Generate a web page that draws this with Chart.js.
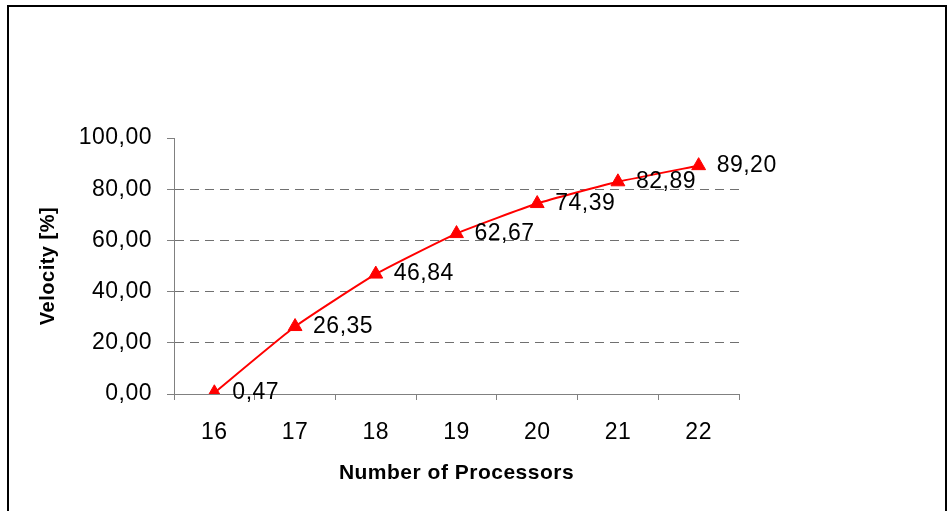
<!DOCTYPE html>
<html>
<head>
<meta charset="utf-8">
<script src="https://cdn.jsdelivr.net/npm/chart.js@4/dist/chart.umd.min.js"></script>
<style>
  body { margin: 0; background: #fff; }
  canvas { display: block; }
</style>
</head>
<body>
<canvas id="velocityChart" width="951" height="511"></canvas>
<script>
// chart data
var processors = ['16', '17', '18', '19', '20', '21', '22'];
var velocity = [0.47, 26.35, 46.84, 62.67, 74.39, 82.89, 89.20];
var yTicks = [0, 20, 40, 60, 80, 100];

function commaFormat(v) {
    return v.toFixed(2).replace('.', ',');
}

// frame round the whole picture + letter spacing like the original
var framePlugin = {
    id: 'frame',
    beforeDraw: function(chart) {
        chart.ctx.letterSpacing = '0.5px';
    },
    afterDraw: function(chart) {
        var ctx = chart.ctx;
        ctx.save();
        ctx.strokeStyle = '#000';
        ctx.lineWidth = 2;
        ctx.strokeRect(8, 6, 938, 530);
        ctx.restore();
    }
};

// value labels to the right of each point
var valueLabels = {
    id: 'valueLabels',
    afterDatasetsDraw: function(chart) {
        var ctx = chart.ctx;
        var meta = chart.getDatasetMeta(0);
        ctx.save();
        ctx.font = '23px "Liberation Sans", Arial, sans-serif';
        ctx.fillStyle = '#000';
        ctx.textAlign = 'left';
        ctx.textBaseline = 'middle';
        meta.data.forEach(function(pt, i) {
            ctx.fillText(commaFormat(velocity[i]), pt.x + 18, pt.y);
        });
        ctx.restore();
    }
};

var ctx = document.getElementById('velocityChart').getContext('2d');
var velocityChart = new Chart(ctx, {
    type: 'line',
    data: {
        labels: processors,
        datasets: [{
            data: velocity,
            borderColor: '#ff0000',
            backgroundColor: '#ff0000',
            borderWidth: 2,
            tension: 0.15,
            fill: false,
            pointStyle: 'triangle',
            pointRadius: 8,
            pointBorderWidth: 1,
            pointBackgroundColor: '#ff0000',
            pointBorderColor: '#ff0000'
        }]
    },
    options: {
        responsive: false,
        animation: false,
        layout: {
            padding: { left: 0, right: 212, top: 138, bottom: 0 }
        },
        plugins: {
            legend: { display: false },
            tooltip: { enabled: false }
        },
        scales: {
            x: {
                offset: true,
                grid: {
                    offset: true,
                    drawOnChartArea: false,
                    drawTicks: true,
                    tickLength: 6,
                    tickColor: '#808080'
                },
                border: { color: '#808080', width: 1 },
                ticks: {
                    color: '#000',
                    padding: 19,
                    font: { family: '"Liberation Sans", Arial, sans-serif', size: 23 }
                },
                title: {
                    display: true,
                    text: 'Number of Processors',
                    color: '#000',
                    padding: { top: 4, bottom: 25 },
                    font: { family: '"Liberation Sans", Arial, sans-serif', size: 21, weight: 'bold' }
                },
                afterFit: function(scale) {
                    scale.height = 117;
                }
            },
            y: {
                min: 0,
                max: 100,
                afterBuildTicks: function(scale) {
                    scale.ticks = yTicks.map(function(v) { return { value: v }; });
                },
                grid: {
                    color: function(c) {
                        var v = c.tick ? c.tick.value : null;
                        return (v === 0 || v === 100) ? 'rgba(0,0,0,0)' : '#707070';
                    },
                    lineWidth: 1,
                    tickLength: 7,
                    tickColor: '#808080'
                },
                border: { color: '#808080', width: 1, dash: [9, 6] },
                ticks: {
                    color: '#000',
                    padding: 15,
                    callback: function(value) { return commaFormat(value); },
                    font: { family: '"Liberation Sans", Arial, sans-serif', size: 23 }
                },
                title: {
                    display: true,
                    text: 'Velocity [%]',
                    color: '#000',
                    padding: { top: 36, bottom: 4 },
                    font: { family: '"Liberation Sans", Arial, sans-serif', size: 20, weight: 'bold' }
                },
                afterFit: function(scale) {
                    scale.width = 174;
                }
            }
        }
    },
    plugins: [framePlugin, valueLabels]
});
</script>
</body>
</html>
